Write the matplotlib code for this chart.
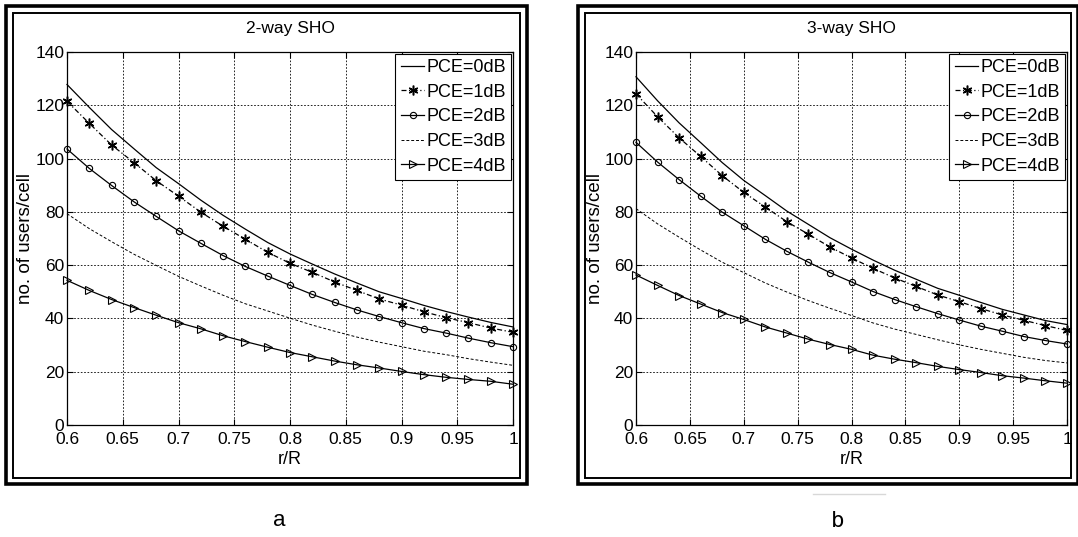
import matplotlib.pyplot as plt
from matplotlib.patches import Rectangle

plt.rcParams['font.family'] = ['Liberation Sans', 'DejaVu Sans']

r_over_R = [0.60, 0.62, 0.64, 0.66, 0.68, 0.70, 0.72, 0.74, 0.76, 0.78, 0.80,
            0.82, 0.84, 0.86, 0.88, 0.90, 0.92, 0.94, 0.96, 0.98, 1.00]

# 2-way SHO
pce0_2way = [127.8, 119.2, 110.9, 103.7, 96.6, 90.6, 84.4, 78.7, 73.5, 68.5, 64.2,
             60.4, 56.7, 53.3, 50.0, 47.5, 44.9, 42.6, 40.5, 38.5, 36.8]
pce1_2way = [121.5, 113.2, 105.1, 98.5, 91.7, 85.9, 79.9, 74.6, 69.7, 64.8, 60.7,
             57.3, 53.7, 50.5, 47.3, 45.0, 42.5, 40.3, 38.4, 36.4, 34.8]
pce2_2way = [103.6, 96.3, 89.9, 83.8, 78.3, 72.9, 68.2, 63.6, 59.5, 55.9, 52.4,
             49.0, 46.0, 43.2, 40.7, 38.4, 36.2, 34.5, 32.6, 30.9, 29.4]
pce3_2way = [79.3, 73.7, 68.8, 64.1, 59.9, 55.8, 52.2, 48.7, 45.5, 42.8, 40.1,
             37.5, 35.2, 33.0, 31.1, 29.4, 27.7, 26.4, 24.9, 23.6, 22.4]
pce4_2way = [54.3, 50.5, 47.1, 44.1, 41.2, 38.4, 36.1, 33.5, 31.3, 29.2, 27.2,
             25.6, 24.0, 22.6, 21.4, 20.1, 18.9, 17.9, 17.1, 16.4, 15.3]

# 3-way SHO
pce0_3way = [130.7, 121.7, 113.4, 106.0, 98.5, 91.8, 86.1, 80.3, 75.3, 70.3, 66.0,
             61.9, 58.1, 54.7, 51.3, 48.7, 46.0, 43.4, 41.3, 39.2, 37.7]
pce1_3way = [124.3, 115.7, 107.8, 100.8, 93.6, 87.3, 81.8, 76.3, 71.6, 66.8, 62.7,
             58.8, 55.2, 52.0, 48.8, 46.3, 43.7, 41.3, 39.3, 37.3, 35.5]
pce2_3way = [106.1, 98.7, 92.1, 85.9, 79.9, 74.8, 69.7, 65.2, 61.1, 57.2, 53.7,
             50.1, 47.1, 44.4, 41.8, 39.4, 37.1, 35.2, 33.2, 31.7, 30.4]
pce3_3way = [81.2, 75.5, 70.5, 65.7, 61.1, 57.2, 53.3, 49.9, 46.7, 43.8, 41.1,
             38.3, 36.0, 34.0, 32.0, 30.1, 28.4, 26.9, 25.4, 24.2, 23.3]
pce4_3way = [56.3, 52.4, 48.6, 45.4, 42.2, 39.6, 36.8, 34.5, 32.2, 30.2, 28.4,
             26.2, 24.7, 23.4, 22.0, 20.8, 19.7, 18.5, 17.6, 16.6, 15.7]

legend_labels = ["PCE=0dB", "PCE=1dB", "PCE=2dB", "PCE=3dB", "PCE=4dB"]
x_ticks = [0.6, 0.65, 0.7, 0.75, 0.8, 0.85, 0.9, 0.95, 1.0]
x_tick_labels = ["0.6", "0.65", "0.7", "0.75", "0.8", "0.85", "0.9", "0.95", "1"]
y_ticks = [0, 20, 40, 60, 80, 100, 120, 140]

W, H = 1078, 537
fig = plt.figure(figsize=(W / 100, H / 100), dpi=100)


def px_box(x0, y0, x1, y1):
    # pixel box (top-left origin) -> figure fraction rect
    return [x0 / W, 1 - y1 / H, (x1 - x0) / W, (y1 - y0) / H]


def draw_frame(x0, y0, x1, y1):
    for (a, b, c, d), lw in [((x0, y0, x1, y1), 2.6), ((x0 + 7, y0 + 7, x1 - 7, y1 - 6), 1.4)]:
        rect = px_box(a, b, c, d)
        fig.patches.append(Rectangle((rect[0], rect[1]), rect[2], rect[3], transform=fig.transFigure,
                                     fill=False, edgecolor="black", linewidth=lw))


def plot_panel(ax, title, series, ylabel_x):
    styles = [
        dict(linestyle="-", marker=None),
        dict(linestyle=(0, (4, 2, 1, 2)), marker=(6, 2, 0), markersize=7, markeredgewidth=1.1),
        dict(linestyle="-", marker="o", markersize=4.5, markerfacecolor="none"),
        dict(linestyle=(0, (3, 2)), marker=None, linewidth=0.7),
        dict(linestyle="-", marker=">", markersize=6, markerfacecolor="none"),
    ]
    for values, label, st in zip(series, legend_labels, styles):
        kw = dict(color="black", linewidth=0.9, markeredgewidth=0.8, clip_on=False)
        kw.update(st)
        ax.plot(r_over_R, values, label=label, **kw)
    ax.set_xlim(0.6, 1.0)
    ax.set_ylim(0, 140)
    ax.set_xticks(x_ticks)
    ax.set_xticklabels(x_tick_labels)
    ax.set_yticks(y_ticks)
    ax.tick_params(direction="in", top=True, right=True, labelsize=12.5, length=4, pad=2)
    ax.tick_params(axis="x", pad=5)
    ax.grid(True, color="black", linestyle=(0, (2, 2)), linewidth=0.6)
    for s in ax.spines.values():
        s.set_linewidth(0.9)
    ax.set_title(title, fontsize=12.5, pad=14)
    ax.set_xlabel("r/R", fontsize=13, labelpad=3)
    ax.set_ylabel("no. of users/cell", fontsize=13.5)
    ax.yaxis.label.set_va("center")
    ax.yaxis.set_label_coords(ylabel_x, 0.5)
    leg = ax.legend(loc="upper right", fontsize=13, fancybox=False, edgecolor="black",
                    framealpha=1, handlelength=1.3, handletextpad=0.1, labelspacing=0.42,
                    borderpad=0.3, borderaxespad=0.1)
    leg.get_frame().set_linewidth(0.8)


ax1 = fig.add_axes(px_box(67, 52, 513, 425))
plot_panel(ax1, "2-way SHO", [pce0_2way, pce1_2way, pce2_2way, pce3_2way, pce4_2way], -41 / 446)

ax2 = fig.add_axes(px_box(636, 52, 1067, 425))
plot_panel(ax2, "3-way SHO", [pce0_3way, pce1_3way, pce2_3way, pce3_3way, pce4_3way], -41 / 431)

draw_frame(6, 6, 527, 484)
draw_frame(578, 6, 1078, 484)

fig.text(279 / W, 1 - 520 / H, "a", fontsize=16, ha="center", va="center")
fig.text(838 / W, 1 - 521 / H, "b", fontsize=16, family="DejaVu Sans Mono", ha="center", va="center")
fig.add_artist(plt.Line2D([813 / W, 885 / W], [1 - 494 / H, 1 - 494 / H], color="#d8d8d8", linewidth=1))

fig.savefig("out.png", dpi=100)
